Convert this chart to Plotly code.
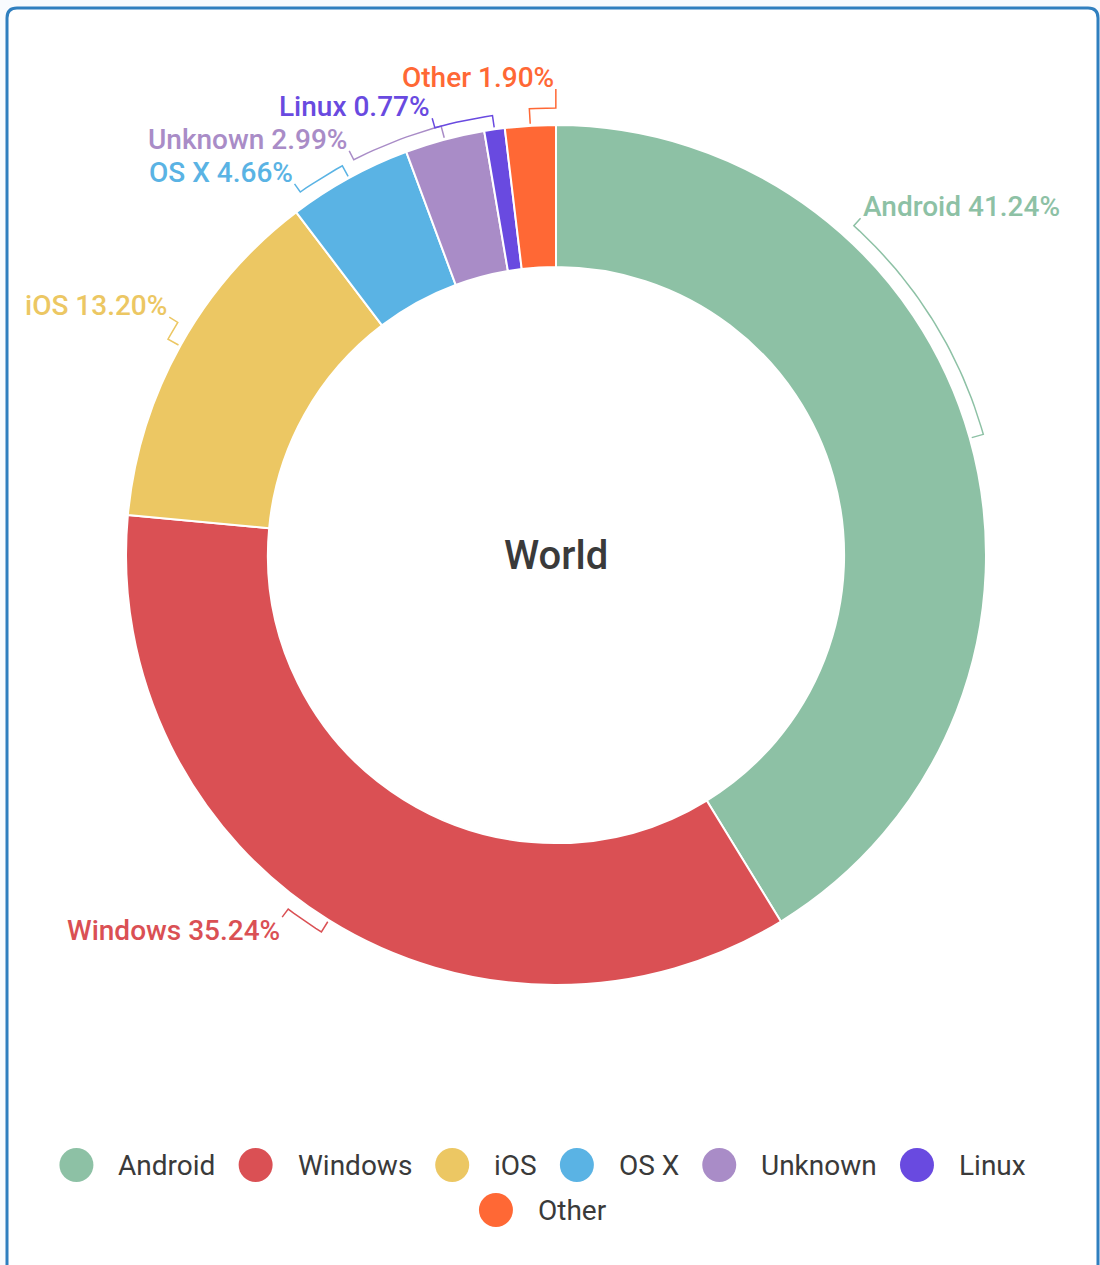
import math
import plotly.graph_objects as go

# ---------------- data ----------------
labels = ["Android", "Windows", "iOS", "OS X", "Unknown", "Linux", "Other"]
shares = [41.24, 35.24, 13.20, 4.66, 2.99, 0.77, 1.90]
colors = ["#8dc1a5", "#da5054", "#ecc763", "#5ab3e4", "#a98cc7", "#694ae0", "#ff6835"]
center_title = "World"

# ---------------- layout parameters ----------------
W, H = 1100, 1265
CX, CY, R = 556, 555, 430          # pie centre / radius in px
HOLE = 0.67
FONT = "Roboto, 'Open Sans', Arial, sans-serif"
label_shift = [-32.1, 5.2, 2.5, -6.4, -12.1, -7.6, 3.4]   # label angle offset from slice middle (deg)
label_r_extra = [24, 24, 24, 24, 24, 24, 36]
bracket_r_extra = [14, 14, 14, 14, 14, 14, 17]
LABEL_SIZE = 28
LEGEND_SIZE = 28
LEGEND_DOT = 34
LEGEND_CENTER_X = 542
LEGEND_ROWS_Y = [1165, 1210]
LEGEND_MAX_W = 1000

fig = go.Figure()

# ---------------- pie ----------------
fig.add_trace(go.Pie(
    labels=labels, values=shares, sort=False, direction="clockwise", rotation=0,
    hole=HOLE, textinfo="none", hoverinfo="label+percent",
    marker=dict(colors=colors, line=dict(color="white", width=2)),
    showlegend=False,
    domain=dict(x=[(CX - R) / W, (CX + R) / W], y=[1 - (CY + R) / H, 1 - (CY - R) / H]),
))


def polar(angle_deg, r):
    a = math.radians(angle_deg)
    return CX + r * math.sin(a), CY - r * math.cos(a)


# ---------------- leader lines + labels ----------------
annotations = []
total = sum(shares)
cum = 0.0
for i, (name, v, col) in enumerate(zip(labels, shares, colors)):
    mid = (cum + v / 2) / total * 360
    cum += v
    lab = mid + label_shift[i]
    rb = R + bracket_r_extra[i]
    re_ = R + label_r_extra[i]
    xs, ys = [], []
    for r in (R + 2, rb):
        x, y = polar(mid, r)
        xs.append(x); ys.append(y)
    steps = max(2, int(abs(lab - mid)) + 1)
    for k in range(1, steps + 1):
        x, y = polar(mid + (lab - mid) * k / steps, rb)
        xs.append(x); ys.append(y)
    ex, ey = polar(lab, re_)
    xs.append(ex); ys.append(ey)
    fig.add_trace(go.Scatter(x=xs, y=ys, mode="lines", line=dict(color=col, width=1.5),
                             hoverinfo="skip", showlegend=False, xaxis="x", yaxis="y"))
    la = lab % 360
    right_side = 0.5 < la < 180
    upper = la < 90 or la > 270
    annotations.append(dict(
        x=ex, y=ey, xref="x", yref="y", text=f"{name} {v:.2f}%", showarrow=False,
        xanchor="left" if right_side else "right",
        yanchor="bottom" if upper else "top",
        yshift=-7 if upper else 5,
        font=dict(family=FONT, size=LABEL_SIZE, color=col, weight=500),
    ))

# centre title
annotations.append(dict(x=CX, y=CY, xref="x", yref="y", text=center_title, showarrow=False,
                        xanchor="center", yanchor="middle",
                        font=dict(family=FONT, size=40, color="#3a3a3a", weight=500)))

# ---------------- custom legend (big round dots) ----------------
EM = {"A": .652, "W": .887, "O": .688, "S": .593, "X": .627, "U": .637, "L": .538,
      "i": .243, "n": .551, "d": .559, "r": .338, "o": .570, "w": .766, "s": .516,
      "k": .507, "u": .551, "x": .496, "t": .327, "h": .551, "e": .529, " ": .248}


def text_w(s, size):
    return sum(EM.get(c, .56) for c in s) * size


GAP = 41
rows, cur, cur_w = [], [], 0
for j, name in enumerate(labels):
    w = text_w(name, LEGEND_SIZE)
    add = (GAP + w) + (GAP if cur else LEGEND_DOT / 2)
    if cur and cur_w + add > LEGEND_MAX_W:
        rows.append(cur); cur, cur_w = [], 0
        add = GAP + w + LEGEND_DOT / 2
    cur.append((j, w)); cur_w += add
rows.append(cur)

dot_x, dot_y, dot_c = [], [], []
for ri, row in enumerate(rows):
    span = LEGEND_DOT / 2 + sum(GAP + w for _, w in row) + GAP * (len(row) - 1)
    x = LEGEND_CENTER_X - span / 2 + LEGEND_DOT / 2
    y = LEGEND_ROWS_Y[ri]
    for j, w in row:
        dot_x.append(x); dot_y.append(y); dot_c.append(colors[j])
        annotations.append(dict(x=x + GAP, y=y, xref="x", yref="y", text=labels[j], showarrow=False,
                                xanchor="left", yanchor="middle", xshift=-1,
                                font=dict(family=FONT, size=LEGEND_SIZE, color="#3a3a3a")))
        x += GAP + w + GAP

fig.add_trace(go.Scatter(x=dot_x, y=dot_y, mode="markers",
                         marker=dict(size=LEGEND_DOT, color=dot_c, line=dict(width=0)),
                         hoverinfo="skip", showlegend=False, xaxis="x", yaxis="y"))

# ---------------- frame ----------------
x0, y0, x1, y1, rr = 7, 8, 1098, 1300, 10
frame = (f"M {x0 + rr},{y0} L {x1 - rr},{y0} Q {x1},{y0} {x1},{y0 + rr} L {x1},{y1} "
         f"L {x0},{y1} L {x0},{y0 + rr} Q {x0},{y0} {x0 + rr},{y0} Z")

fig.update_layout(
    width=W, height=H, margin=dict(l=0, r=0, t=0, b=0),
    paper_bgcolor="#f8fbfe", plot_bgcolor="rgba(0,0,0,0)",
    xaxis=dict(range=[0, W], visible=False, fixedrange=True, domain=[0, 1]),
    yaxis=dict(range=[H, 0], visible=False, fixedrange=True, domain=[0, 1]),
    annotations=annotations,
    shapes=[dict(type="path", path=frame, xref="x", yref="y", layer="below",
                 fillcolor="white", line=dict(color="#2f7fbf", width=3))],
    showlegend=False,
)

fig.write_html("out.html")
